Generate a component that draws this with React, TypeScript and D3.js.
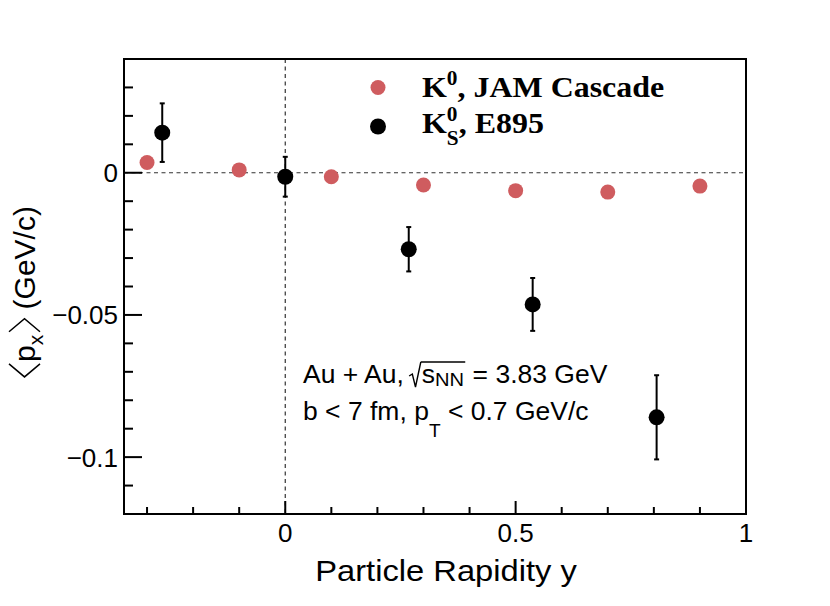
import React, { useRef, useEffect } from 'react';
import * as d3 from 'd3';

// JAM cascade model, K0
const jamRapidity = [-0.3, -0.1, 0.1, 0.3, 0.5, 0.7, 0.9];
const jamPx = [0.0036, 0.001, -0.0014, -0.0043, -0.0063, -0.0068, -0.0047];

// E895 data, K0_S
const e895Rapidity = [-0.267, 0, 0.268, 0.537, 0.806];
const e895Px = [0.0141, -0.0014, -0.0269, -0.0463, -0.086];
const e895Err = [0.0103, 0.007, 0.0078, 0.0093, 0.0148];

const xMajorTicks = [0, 0.5, 1];
const xTickLabels = ['0', '0.5', '1'];
const xMinorTicks = [-0.3, -0.2, -0.1, 0.1, 0.2, 0.3, 0.4, 0.6, 0.7, 0.8, 0.9];
const yMajorTicks = [-0.1, -0.05, 0];
const yTickLabels = ['\u22120.1', '\u22120.05', '0'];
const yMinorTicks = [-0.12, -0.11, -0.09, -0.08, -0.07, -0.06, -0.04, -0.03, -0.02, -0.01, 0.01, 0.02, 0.03, 0.04];

const W = 830;
const H = 606;
const SANS = "'Liberation Sans', Arial, Helvetica, sans-serif";
const SERIF = "'Liberation Serif', 'Times New Roman', serif";
const RED = '#cf5c5f';

// horizontal stretch about a point (the reference fonts run a bit wider)
const stretch = (cx: number, s: number) => `translate(${cx},0) scale(${s},1) translate(${-cx},0)`;

const App: React.FC = () => {
  const svgRef = useRef<SVGSVGElement | null>(null);

  useEffect(() => {
    if (!svgRef.current) return;
    const svg = d3.select(svgRef.current);
    svg.selectAll('*').remove();

    const x = d3.scaleLinear().domain([-0.35, 1]).range([124, 746]);
    const y = d3.scaleLinear().domain([-0.12, 0.04]).range([514, 59]);
    const [x0, x1] = x.range();
    const [y0, y1] = y.range();

    svg.append('rect').attr('width', W).attr('height', H).attr('fill', 'white');

    // zero lines
    svg.append('line')
      .attr('x1', x0).attr('x2', x1).attr('y1', y(0)).attr('y2', y(0))
      .attr('stroke', '#333').attr('stroke-width', 1.2).attr('stroke-dasharray', '4 3.5');
    svg.append('line')
      .attr('x1', x(0)).attr('x2', x(0)).attr('y1', y1).attr('y2', y0)
      .attr('stroke', '#333').attr('stroke-width', 1.2).attr('stroke-dasharray', '4 3.5');

    // ticks
    const ticks = svg.append('g').attr('stroke', 'black').attr('stroke-width', 2);
    xMajorTicks.forEach(t => ticks.append('line').attr('x1', x(t)).attr('x2', x(t)).attr('y1', y0).attr('y2', y0 - 13));
    xMinorTicks.forEach(t => ticks.append('line').attr('x1', x(t)).attr('x2', x(t)).attr('y1', y0).attr('y2', y0 - 7));
    yMajorTicks.forEach(t => ticks.append('line').attr('x1', x0).attr('x2', x0 + 18).attr('y1', y(t)).attr('y2', y(t)));
    yMinorTicks.forEach(t => ticks.append('line').attr('x1', x0).attr('x2', x0 + 9).attr('y1', y(t)).attr('y2', y(t)));

    // frame
    svg.append('rect')
      .attr('x', x0).attr('y', y1).attr('width', x1 - x0).attr('height', y0 - y1)
      .attr('fill', 'none').attr('stroke', 'black').attr('stroke-width', 2);

    // tick labels
    xMajorTicks.forEach((t, i) => svg.append('text')
      .attr('x', x(t)).attr('y', 542).attr('text-anchor', 'middle')
      .attr('font-family', SANS).attr('font-size', 26).text(xTickLabels[i]));
    yMajorTicks.forEach((t, i) => svg.append('text')
      .attr('x', 118).attr('y', y(t) + 9.5).attr('text-anchor', 'end')
      .attr('font-family', SANS).attr('font-size', 26).text(yTickLabels[i]));

    // x title
    svg.append('text')
      .attr('x', 446).attr('y', 581).attr('text-anchor', 'middle')
      .attr('transform', stretch(446, 1.09))
      .attr('font-family', SANS).attr('font-size', 30).text('Particle Rapidity y');

    // helper: put a piece of text at a cursor and return its width
    const put = (g: any, s: string, px: number, py: number, size: number, family = SANS, weight = 'normal') => {
      const t = g.append('text')
        .attr('x', px).attr('y', py).attr('font-family', family)
        .attr('font-size', size).attr('font-weight', weight)
        .style('white-space', 'pre').text(s);
      return (t.node() as SVGTextElement).getComputedTextLength();
    };

    // y title, rotated; angle brackets drawn as strokes like ROOT's #LT #GT
    const yt = svg.append('g').attr('transform', 'translate(35,292) rotate(-90)');
    const ytInner = yt.append('g');
    let c = 0;
    ytInner.append('path').attr('d', `M${c + 14},-26 L${c + 1},-10.5 L${c + 14},5`)
      .attr('fill', 'none').attr('stroke', 'black').attr('stroke-width', 1.5);
    c += 16;
    c += put(ytInner, 'p', c, 0, 30);
    c += put(ytInner, 'x', c, 8, 21);
    c += 2;
    ytInner.append('path').attr('d', `M${c + 1},-26 L${c + 14},-10.5 L${c + 1},5`)
      .attr('fill', 'none').attr('stroke', 'black').attr('stroke-width', 1.5);
    c += 15;
    c += put(ytInner, ' (GeV/c)', c, 0, 30);
    ytInner.attr('transform', `translate(${-c / 2},0)`);

    // error bars
    const eb = svg.append('g').attr('stroke', 'black').attr('stroke-width', 2);
    e895Rapidity.forEach((r, i) => {
      const lo = y(e895Px[i] - e895Err[i]);
      const hi = y(e895Px[i] + e895Err[i]);
      eb.append('line').attr('x1', x(r)).attr('x2', x(r)).attr('y1', lo).attr('y2', hi);
      eb.append('line').attr('x1', x(r) - 2.5).attr('x2', x(r) + 2.5).attr('y1', lo).attr('y2', lo);
      eb.append('line').attr('x1', x(r) - 2.5).attr('x2', x(r) + 2.5).attr('y1', hi).attr('y2', hi);
    });

    // markers
    svg.append('g').selectAll('circle').data(jamRapidity).enter().append('circle')
      .attr('cx', d => x(d)).attr('cy', (d, i) => y(jamPx[i])).attr('r', 7.5).attr('fill', RED);
    svg.append('g').selectAll('circle').data(e895Rapidity).enter().append('circle')
      .attr('cx', d => x(d)).attr('cy', (d, i) => y(e895Px[i])).attr('r', 8).attr('fill', 'black');

    // legend
    const lg = svg.append('g');
    lg.append('circle').attr('cx', 378).attr('cy', 87.5).attr('r', 7.5).attr('fill', RED);
    lg.append('circle').attr('cx', 378).attr('cy', 126.5).attr('r', 8).attr('fill', 'black');
    const lt = lg.append('g').attr('transform', stretch(422, 1.065));
    let lx = 422;
    lx += put(lt, 'K', lx, 97, 30, SERIF, 'bold');
    lx += put(lt, '0', lx, 85, 20, SERIF, 'bold');
    put(lt, ', JAM Cascade', lx, 97, 30, SERIF, 'bold');
    lx = 422;
    lx += put(lt, 'K', lx, 133, 30, SERIF, 'bold');
    const w0 = put(lt, '0', lx, 121, 20, SERIF, 'bold');
    const wS = put(lt, 'S', lx, 145, 20, SERIF, 'bold');
    lx += Math.max(w0, wS);
    put(lt, ', E895', lx, 133, 30, SERIF, 'bold');

    // annotation
    const an = svg.append('g').attr('transform', stretch(303, 1.06));
    let ax = 303;
    ax += put(an, 'Au + Au, ', ax, 383, 25);
    const r0 = ax - 2;
    an.append('path')
      .attr('d', `M${r0},376 L${r0 + 3},374 L${r0 + 6},387 L${r0 + 11},362`)
      .attr('fill', 'none').attr('stroke', 'black').attr('stroke-width', 1.3);
    ax = r0 + 12;
    ax += put(an, 's', ax, 383, 25);
    ax += put(an, 'NN', ax, 386, 19);
    an.append('line').attr('x1', r0 + 11).attr('x2', ax + 1).attr('y1', 362).attr('y2', 362)
      .attr('stroke', 'black').attr('stroke-width', 1.3);
    put(an, ' = 3.83 GeV', ax + 1, 383, 25);

    ax = 303;
    ax += put(an, 'b < 7 fm, p', ax, 420, 25);
    ax += put(an, 'T', ax, 437, 18);
    put(an, ' < 0.7 GeV/c', ax, 420, 25);
  }, []);

  return (
    <svg ref={svgRef} width={W} height={H}
      style={{ position: 'absolute', left: 0, top: 0, display: 'block' }} />
  );
};

export default App;
